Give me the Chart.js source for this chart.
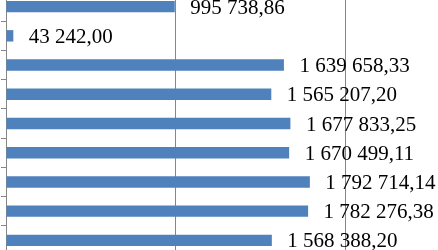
<!DOCTYPE html>
<html>
<head>
<meta charset="utf-8">
<script src="https://cdn.jsdelivr.net/npm/chart.js@4/dist/chart.umd.min.js"></script>
<style>
  html, body { margin: 0; padding: 0; background: #fff; overflow: hidden; width: 438px; height: 250px; }
  #wrap { position: absolute; left: 0; top: -8px; width: 438px; height: 263px; }
</style>
</head>
<body>
<div id="wrap"><canvas id="c"></canvas></div>
<script>
const categories = ["1", "2", "3", "4", "5", "6", "7", "8", "9"];
const values = [995738.86, 43242.00, 1639658.33, 1565207.20, 1677833.25, 1670499.11, 1792714.14, 1782276.38, 1568388.20];
const axisMin = 0;
const axisMax = 2000000;
const axisStep = 1000000;

function fmt(v) {
  const parts = v.toFixed(2).split(".");
  const intPart = parts[0].replace(/\B(?=(\d{3})+(?!\d))/g, " ");
  return intPart + "," + parts[1];
}

const labelPlugin = {
  id: "barLabels",
  afterDatasetsDraw(chart) {
    const ctx = chart.ctx;
    const meta = chart.getDatasetMeta(0);
    ctx.save();
    ctx.font = '21px "Liberation Serif", "Times New Roman", serif';
    ctx.fillStyle = "#000";
    ctx.textAlign = "left";
    ctx.textBaseline = "alphabetic";
    meta.data.forEach((el, i) => {
      ctx.fillText(fmt(values[i]), el.x + 15.5, el.y + 7);
    });
    ctx.restore();
  }
};

new Chart(document.getElementById("c"), {
  type: "bar",
  data: {
    labels: categories,
    datasets: [{
      data: values,
      backgroundColor: "#4F81BD",
      borderWidth: 0,
      categoryPercentage: 1.0,
      barPercentage: 0.39
    }]
  },
  options: {
    indexAxis: "y",
    responsive: true,
    maintainAspectRatio: false,
    animation: false,
    layout: { padding: { left: 1, right: 93, top: 0, bottom: 0 } },
    plugins: { legend: { display: false }, tooltip: { enabled: false } },
    scales: {
      x: {
        min: axisMin,
        max: axisMax,
        ticks: { display: false, stepSize: axisStep },
        grid: { color: "#868686", lineWidth: 1, drawTicks: false },
        border: { display: false }
      },
      y: {
        ticks: { display: false },
        grid: { display: true, drawOnChartArea: false, drawTicks: true, tickLength: 5, offset: true, color: "#868686" },
        border: { display: true, color: "#868686", width: 1 }
      }
    }
  },
  plugins: [labelPlugin]
});
</script>
</body>
</html>
